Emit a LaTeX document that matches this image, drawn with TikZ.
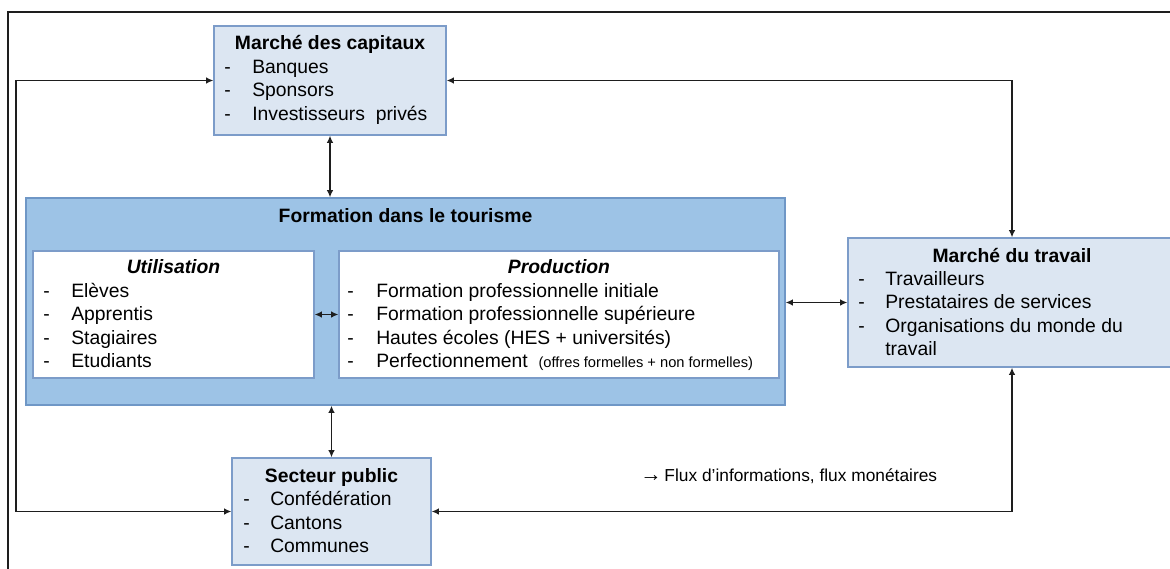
\documentclass[tikz,border=0pt]{standalone}
\usepackage{fontspec}
\setmainfont{Liberation Sans}
\usetikzlibrary{arrows.meta,fit}

\definecolor{lightbox}{HTML}{DCE6F2}
\definecolor{boxedge}{HTML}{7C9CC9}
\definecolor{midblue}{HTML}{9DC3E6}
\definecolor{midedge}{HTML}{6F97C6}
\definecolor{ink}{HTML}{1E1E1E}

\tikzset{
  market/.style={draw=boxedge, fill=lightbox, line width=0.9pt, inner sep=0pt},
  outer/.style={draw=midedge, fill=midblue, line width=0.9pt, inner sep=0pt},
  inner/.style={draw=boxedge, fill=white, line width=0.9pt, inner sep=0pt},
  ttl/.style={anchor=base, inner sep=0pt, font=\fontsize{14.5}{17}\selectfont\bfseries},
  ittl/.style={anchor=base, inner sep=0pt, font=\fontsize{14.5}{17}\selectfont\bfseries\itshape},
  itm/.style={anchor=base west, inner sep=0pt, font=\fontsize{14.5}{17}\selectfont},
  flow/.style={draw=ink, line width=1.35pt, {Latex[length=5.5pt,width=5pt]}-{Latex[length=5.5pt,width=5pt]}},
  frame/.style={draw=ink, line width=1.2pt}
}

\begin{document}
\begin{tikzpicture}[x=0.75pt, y=-0.75pt]
  \useasboundingbox (0,0) rectangle (1170,568);
  \clip (0,0) rectangle (1170,568);

  % outer frame
  \draw[frame] (8,600) -- (8,12) -- (1200,12);

  % boxes
  \node[market, fit={(214,26) (446,135)}] (capitaux) {};
  \node[outer, fit={(26,198) (785,405)}] (formation) {};
  \node[inner, fit={(33,251) (314,378)}] (util) {};
  \node[inner, fit={(339,251) (779,378)}] (prod) {};
  \node[market, fit={(848,238) (1176,367)}] (travail) {};
  \node[market, fit={(232,458) (431,565)}] (public) {};

  % Marché des capitaux
  \node[ttl] (capT) at (330,49) {Marché des capitaux};
  \node[itm] (capD1) at (224,73) {-};
  \node[itm] (capI1) at (252,73) {Banques};
  \node[itm] (capD2) at (224,96.5) {-};
  \node[itm] (capI2) at (252,96.5) {Sponsors};
  \node[itm] (capD3) at (224,120) {-};
  \node[itm] (capI3) at (252,120) {Investisseurs\ \ privés};

  % Formation dans le tourisme
  \node[ttl] (formT) at (405.5,222) {Formation dans le tourisme};

  \node[ittl] (utilT) at (173.5,273) {Utilisation};
  \node[itm] (utD1) at (43,297) {-};
  \node[itm] (utI1) at (71,297) {Elèves};
  \node[itm] (utD2) at (43,320.5) {-};
  \node[itm] (utI2) at (71,320.5) {Apprentis};
  \node[itm] (utD3) at (43,344) {-};
  \node[itm] (utI3) at (71,344) {Stagiaires};
  \node[itm] (utD4) at (43,367.5) {-};
  \node[itm] (utI4) at (71,367.5) {Etudiants};

  \node[ittl] (prodT) at (559,273) {Production};
  \node[itm] (prD1) at (347,297) {-};
  \node[itm] (prI1) at (376,297) {Formation professionnelle initiale};
  \node[itm] (prD2) at (347,320.5) {-};
  \node[itm] (prI2) at (376,320.5) {Formation professionnelle supérieure};
  \node[itm] (prD3) at (347,344) {-};
  \node[itm] (prI3) at (376,344) {Hautes écoles (HES + universités)};
  \node[itm] (prD4) at (347,367.5) {-};
  \node[itm] (prI4) at (376,367.5) {Perfectionnement\ \ {\fontsize{11}{13}\selectfont(offres formelles + non formelles)}};

  % Marché du travail
  \node[ttl] (travT) at (1012,262) {Marché du travail};
  \node[itm] (trD1) at (858,285) {-};
  \node[itm] (trI1) at (885,285) {Travailleurs};
  \node[itm] (trD2) at (858,308.5) {-};
  \node[itm] (trI2) at (885,308.5) {Prestataires\ de\ services};
  \node[itm] (trD3) at (858,332) {-};
  \node[itm] (trI3) at (885,332) {Organisations\ du\ monde\ du};
  \node[itm] (trI4) at (885,355.5) {travail};

  % Secteur public
  \node[ttl] (pubT) at (331.5,482) {Secteur public};
  \node[itm] (puD1) at (243,505.5) {-};
  \node[itm] (puI1) at (270,505.5) {Confédération};
  \node[itm] (puD2) at (243,529) {-};
  \node[itm] (puI2) at (270,529) {Cantons};
  \node[itm] (puD3) at (243,552.5) {-};
  \node[itm] (puI3) at (270,552.5) {Communes};

  % legend
  \node[anchor=base west, inner sep=0pt, font=\fontsize{13}{15}\selectfont] (legend) at (640,481) {{\fontsize{16}{15}\selectfont →}\,Flux d’informations, flux monétaires};

  % flows
  \coordinate (lx) at (16,0);
  \draw[flow] (capitaux.south) -- (capitaux.south |- formation.north);
  \draw[flow] (public.north) -- (public.north |- formation.south);
  \draw[flow] (util.east) -- (util.east -| prod.west);
  \draw[flow] (travail.west) -- (travail.west -| formation.east);
  \draw[flow] (capitaux.west) -- (capitaux.west -| lx) -- (lx |- public.west) -- (public.west);
  \draw[flow] (capitaux.east) -| (travail.north);
  \draw[flow] (travail.south) |- (public.east);
\end{tikzpicture}
\end{document}
